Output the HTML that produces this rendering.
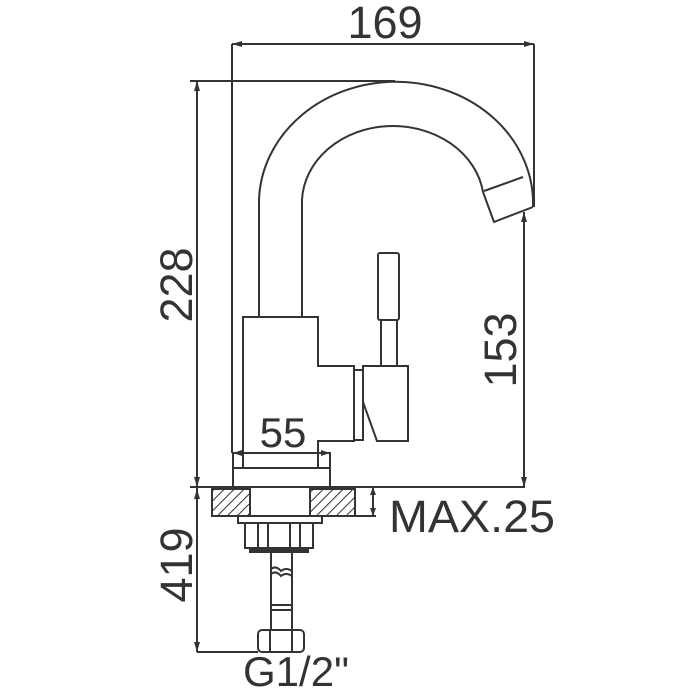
<!DOCTYPE html>
<html><head><meta charset="utf-8"><style>html,body{margin:0;padding:0;background:#fff}svg{display:block}</style></head><body>
<svg width="700" height="700" viewBox="0 0 700 700" xmlns="http://www.w3.org/2000/svg">
<defs>
<pattern id="h" width="7" height="7" patternUnits="userSpaceOnUse" patternTransform="rotate(45)"><line x1="0" y1="0" x2="0" y2="7" stroke="#333" stroke-width="2"/></pattern>
</defs>
<g fill="none" stroke="#333" stroke-width="2">
<!-- 169 dim -->
<line x1="232" y1="44" x2="534" y2="44"/>
<line x1="232" y1="44" x2="232" y2="453"/>
<line x1="534" y1="44" x2="534" y2="207"/>
<!-- 228 dim -->
<line x1="197" y1="81" x2="197" y2="652"/>
<line x1="190" y1="81" x2="395" y2="81"/>
<!-- spout -->
<path d="M259 317 L259 200 A134 119 0 0 1 533 207"/>
<path d="M302 317 L302 200 A91 77 0 0 1 483 192"/>
<path d="M483 192 L494 222 L533 207"/>
<line x1="484" y1="191" x2="523" y2="177"/>
<!-- 153 dim -->
<line x1="524" y1="212" x2="524" y2="487"/>
<!-- body -->
<path d="M243 453 L243 317 L318 317 L318 366 L354 366 L354 441 L318 441 L318 453"/>
<rect x="354" y="370" width="9" height="70"/>
<path d="M363 366 L408 366 L408 441 L377 441 L363 402 Z"/>
<rect x="378" y="253" width="21" height="67" rx="2"/>
<path d="M381 320 L381 366 M397 320 L397 366"/>
<!-- base -->
<rect x="233" y="453" width="97" height="34"/>
<line x1="233" y1="468" x2="330" y2="468"/>
<line x1="243" y1="453" x2="243" y2="468"/>
<line x1="318" y1="453" x2="318" y2="468"/>
<!-- countertop -->
<line x1="190" y1="487" x2="525" y2="487"/>
<line x1="355" y1="487" x2="376" y2="487"/>
<line x1="355" y1="516" x2="376" y2="516"/>
<line x1="373" y1="487" x2="373" y2="516"/>
</g>
<rect x="212" y="489" width="38" height="27" fill="url(#h)" stroke="#333" stroke-width="2"/>
<rect x="310" y="489" width="45" height="27" fill="url(#h)" stroke="#333" stroke-width="2"/>
<g fill="none" stroke="#333" stroke-width="2">
<line x1="250" y1="489" x2="250" y2="516"/>
<line x1="310" y1="489" x2="310" y2="516"/>
<rect x="238" y="516" width="84" height="7"/>
<rect x="245" y="523" width="68" height="25"/>
<line x1="258" y1="523" x2="258" y2="548"/><line x1="268" y1="523" x2="268" y2="548"/>
<line x1="290" y1="523" x2="290" y2="548"/><line x1="300" y1="523" x2="300" y2="548"/>
<rect x="250" y="548" width="58" height="4" fill="#333"/>
<path d="M271 553 L271 630 M292 553 L292 630"/>
<path d="M271 569 q5 -4 10 2 q5 -4 11 0 M271 574 q5 -4 10 2 q5 -4 11 0"/>
<line x1="271" y1="605" x2="292" y2="605"/><line x1="271" y1="610" x2="292" y2="610"/>
<rect x="258" y="630" width="46" height="22" rx="4"/>
<line x1="270" y1="630" x2="270" y2="652"/><line x1="292" y1="630" x2="292" y2="652"/>
<line x1="197" y1="652" x2="258" y2="652"/>
</g>
<g fill="#333">
<path d="M232 44 l10 -3 v6 z M534 44 l-10 -3 v6 z"/>
<path d="M197 81 l-3 10 h6 z M197 487 l-3 -10 h6 z M197 489 l-3 10 h6 z M197 652 l-3 -10 h6 z"/>
<path d="M524 212 l-3 10 h6 z M524 487 l-3 -10 h6 z"/>
<path d="M373 487 l-3 8 h6 z M373 516 l-3 -8 h6 z"/>
<path d="M233 453 l9 -3 v6 z M330 453 l-9 -3 v6 z"/>
</g>
<g font-family="Liberation Sans, sans-serif" fill="#333" font-size="45">
<text x="385" y="38" text-anchor="middle">169</text>
<text x="283" y="447" text-anchor="middle" font-size="42">55</text>
<text x="389" y="532" textLength="166" lengthAdjust="spacingAndGlyphs">MAX.25</text>
<text x="296" y="686" text-anchor="middle" font-size="42">G1/2"</text>
<text transform="translate(192 285) rotate(-90)" text-anchor="middle">228</text>
<text transform="translate(192 565) rotate(-90)" text-anchor="middle">419</text>
<text transform="translate(516 350) rotate(-90)" text-anchor="middle">153</text>
</g>
</svg>
</body></html>
